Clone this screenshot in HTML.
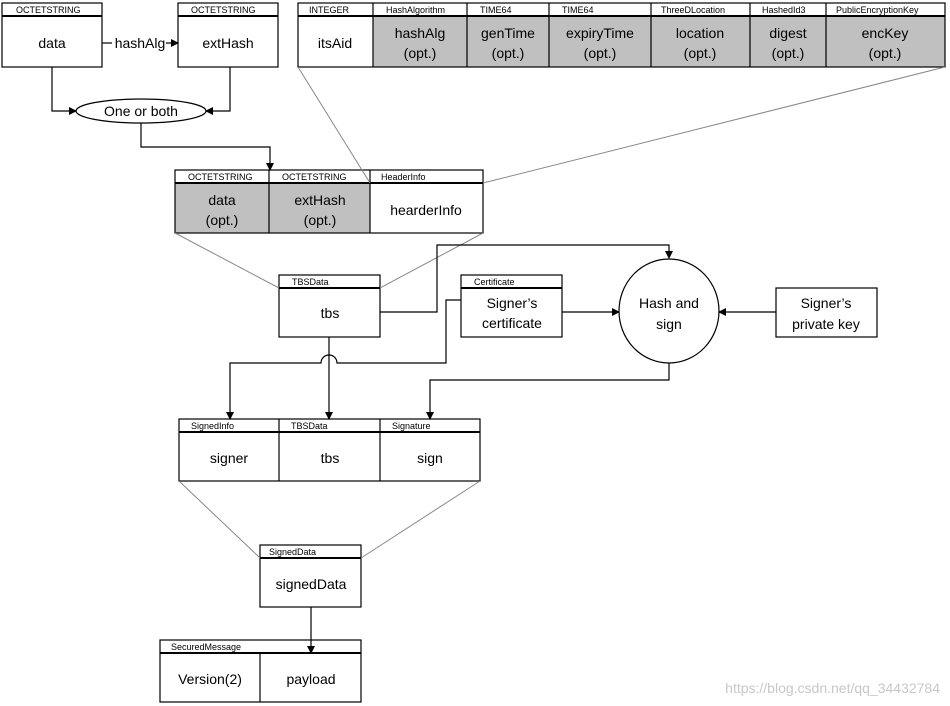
<!DOCTYPE html>
<html><head><meta charset="utf-8"><style>
html,body{margin:0;padding:0;background:#fff;}
svg{display:block;font-family:"Liberation Sans",sans-serif;}
.h{font-size:9px;}
.t{font-size:14px;}
</style></head><body>
<svg width="950" height="706" viewBox="0 0 950 706" xmlns="http://www.w3.org/2000/svg">
<defs><marker id="a" markerWidth="8" markerHeight="8" refX="7" refY="4" orient="auto" markerUnits="userSpaceOnUse"><path d="M0,0 L8,4 L0,8 z" fill="#000"/></marker></defs>
<g fill="none" stroke="#000" stroke-width="1.2">
<!-- top row gray fills -->
<rect x="373" y="16" width="453" height="51" fill="#c0c0c0" stroke="none"/>
<rect x="826" y="16" width="119" height="51" fill="#c0c0c0" stroke="none"/>
<rect x="175" y="183" width="195" height="50" fill="#c0c0c0" stroke="none"/>
<!-- boxes -->
<rect x="2" y="3" width="100" height="64"/><line x1="2" y1="16" x2="102" y2="16" stroke-width="2"/>
<rect x="178" y="3" width="100" height="64"/><line x1="178" y1="16" x2="278" y2="16" stroke-width="2"/>
<rect x="298" y="3" width="647" height="64"/><line x1="298" y1="16" x2="945" y2="16" stroke-width="2"/>
<path d="M373 3V67M467 3V67M549 3V67M651 3V67M750 3V67M826 3V67"/>
<rect x="175" y="170" width="308" height="63"/><line x1="175" y1="183" x2="483" y2="183" stroke-width="2"/>
<path d="M269 170V233M370 170V233"/>
<rect x="279" y="275" width="101" height="62"/><line x1="279" y1="288" x2="380" y2="288" stroke-width="2"/>
<rect x="461" y="275" width="101" height="62"/><line x1="461" y1="288" x2="562" y2="288" stroke-width="2"/>
<ellipse cx="669" cy="311" rx="50" ry="52"/>
<rect x="776" y="288" width="101" height="49"/>
<rect x="179" y="419" width="301" height="62"/><line x1="179" y1="432" x2="480" y2="432" stroke-width="2"/>
<path d="M279 419V481M380 419V481"/>
<rect x="260" y="545" width="101" height="62"/><line x1="260" y1="558" x2="361" y2="558" stroke-width="2"/>
<rect x="160" y="640" width="201" height="62"/><line x1="160" y1="653" x2="361" y2="653" stroke-width="2"/>
<path d="M260 653V702"/>
<ellipse cx="141" cy="111" rx="65" ry="12"/>
</g>
<!-- gray expansion lines -->
<g stroke="#888" stroke-width="1" fill="none">
<path d="M298 67L370 183M945 67L483 183M175 233L279 288M483 233L380 288M179 481L260 558M480 481L361 558"/>
</g>
<!-- connectors -->
<g stroke="#000" stroke-width="1.2" fill="none">
<path d="M102 43H112"/><path d="M166 43H178" marker-end="url(#a)"/>
<path d="M52 67V111H76" marker-end="url(#a)"/>
<path d="M230 67V111H206" marker-end="url(#a)"/>
<path d="M141 123V147H270V170" marker-end="url(#a)"/>
<path d="M380 312H437V245H669V258" marker-end="url(#a)"/>
<path d="M461 300H446V363H337A8 8 0 0 0 321 363H230V419" marker-end="url(#a)"/>
<path d="M329 337V419" marker-end="url(#a)"/>
<path d="M669 363V380H430V419" marker-end="url(#a)"/>
<path d="M562 312H619" marker-end="url(#a)"/>
<path d="M776 312H719" marker-end="url(#a)"/>
<path d="M311 607V653" marker-end="url(#a)"/>
</g>
<!-- header labels -->
<g class="h" fill="#000">
<text x="16" y="13">OCTETSTRING</text>
<text x="191" y="13">OCTETSTRING</text>
<text x="309" y="13">INTEGER</text>
<text x="386" y="13">HashAlgorithm</text>
<text x="480" y="13">TIME64</text>
<text x="562" y="13">TIME64</text>
<text x="661" y="13">ThreeDLocation</text>
<text x="762" y="13">HashedId3</text>
<text x="836" y="13">PublicEncryptionKey</text>
<text x="188" y="180">OCTETSTRING</text>
<text x="282" y="180">OCTETSTRING</text>
<text x="381" y="180">HeaderInfo</text>
<text x="292" y="285">TBSData</text>
<text x="474" y="285">Certificate</text>
<text x="191" y="429">SignedInfo</text>
<text x="291" y="429">TBSData</text>
<text x="392" y="429">Signature</text>
<text x="269" y="555">SignedData</text>
<text x="171" y="650">SecuredMessage</text>
</g>
<!-- main labels -->
<g class="t" fill="#000" text-anchor="middle">
<text x="52" y="48">data</text>
<text x="140" y="48">hashAlg</text>
<text x="228" y="48">extHash</text>
<text x="335" y="48">itsAid</text>
<text x="420" y="38">hashAlg</text><text x="420" y="58">(opt.)</text>
<text x="508" y="38">genTime</text><text x="508" y="58">(opt.)</text>
<text x="600" y="38">expiryTime</text><text x="600" y="58">(opt.)</text>
<text x="700" y="38">location</text><text x="700" y="58">(opt.)</text>
<text x="788" y="38">digest</text><text x="788" y="58">(opt.)</text>
<text x="885" y="38">encKey</text><text x="885" y="58">(opt.)</text>
<text x="141" y="116">One or both</text>
<text x="222" y="205">data</text><text x="222" y="225">(opt.)</text>
<text x="320" y="205">extHash</text><text x="320" y="225">(opt.)</text>
<text x="426" y="215">hearderInfo</text>
<text x="330" y="318">tbs</text>
<text x="512" y="308">Signer’s</text><text x="512" y="328">certificate</text>
<text x="669" y="308">Hash and</text><text x="669" y="329">sign</text>
<text x="826" y="308">Signer’s</text><text x="826" y="329">private key</text>
<text x="229" y="463">signer</text>
<text x="330" y="463">tbs</text>
<text x="430" y="463">sign</text>
<text x="311" y="589">signedData</text>
<text x="210" y="684">Version(2)</text>
<text x="311" y="684">payload</text>
</g>
<text x="940" y="693" text-anchor="end" fill="#c8c8c8" font-size="14">https://blog.csdn.net/qq_34432784</text>
</svg>
</body></html>
